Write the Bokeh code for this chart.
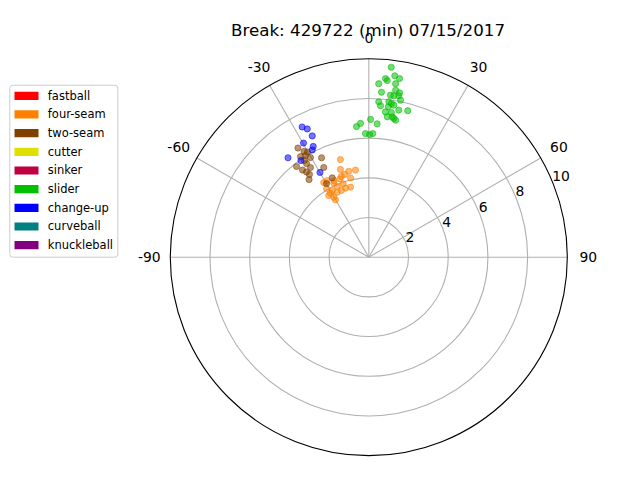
import math
from bokeh.plotting import figure
from bokeh.models import Range1d, Label
from bokeh.core.properties import value
from bokeh.embed import file_html
from bokeh.resources import INLINE

# ---------------- data ----------------
title_text = "Break: 429722 (min) 07/15/2017"

pitch_types = ["fastball", "four-seam", "two-seam", "cutter", "sinker",
               "slider", "change-up", "curveball", "knuckleball"]
pitch_colors = ["#ff0000", "#ff8000", "#804000", "#e0e000", "#c00040",
                "#00c000", "#0000ff", "#008080", "#800080"]

theta_ticks = [-90, -60, -30, 0, 30, 60, 90]
r_ticks = [2, 4, 6, 8, 10]
r_max = 10

# horizontal / vertical break (inches) per pitch type
four_seam_x = [-1.43, -1.43, -1.01, -0.67, -1.22, -1.38, -1.46, -0.92, -2.27, -1.76,
               -1.59, -1.29, -1.17, -0.92, -2.13, -1.84, -1.59, -1.38, -2.02, -1.76,
               -1.68, -1.93, -2.10, -1.76]
four_seam_y = [4.92, 4.42, 4.33, 4.39, 4.17, 4.07, 3.94, 3.99, 3.76, 3.73,
               3.56, 3.70, 3.48, 3.53, 3.45, 3.36, 3.27, 3.36, 3.11, 3.02,
               2.89, 3.22, 3.86, 3.86]

two_seam_x = [-3.57, -3.26, -3.09, -3.19, -2.94, -2.38, -3.64, -3.34, -3.14, -2.94,
              -3.14, -2.99, -2.27, -3.01, -1.84, -2.13, -3.44, -3.24]
two_seam_y = [5.50, 5.33, 5.30, 5.12, 5.02, 5.01, 4.57, 4.39, 4.72, 4.52,
              4.29, 4.17, 4.52, 3.91, 4.00, 3.71, 5.07, 4.87]

slider_x = [1.13, 1.31, 1.55, 0.84, 0.93, 0.50, 1.35, 0.64, 1.35, 1.55,
            1.09, 1.26, 1.51, 1.60, 0.50, 1.01, 1.14, 0.59, 0.98, 1.26,
            1.51, 1.96, 0.84, 1.14, 0.93, 1.18, 1.35, 1.26, 0.09, 0.42,
            -0.42, -0.62, -0.17, 0.04, 0.20]
slider_y = [9.57, 9.14, 9.00, 9.00, 8.90, 8.74, 8.74, 8.31, 8.41, 8.28,
            8.16, 8.13, 8.13, 7.91, 7.83, 7.83, 7.74, 7.63, 7.58, 7.66,
            7.41, 7.38, 7.32, 7.29, 7.07, 7.07, 6.90, 6.99, 6.94, 6.72,
            6.74, 6.58, 6.23, 6.18, 6.23]

change_up_x = [-3.36, -3.10, -2.85, -3.29, -2.80, -2.85, -4.07, -3.42, -2.46]
change_up_y = [6.56, 6.46, 6.11, 5.75, 5.58, 5.40, 5.01, 4.87, 4.27]

series = [
    ("four-seam", four_seam_x, four_seam_y),
    ("two-seam", two_seam_x, two_seam_y),
    ("slider", slider_x, slider_y),
    ("change-up", change_up_x, change_up_y),
]

# ---------------- layout ----------------
W, H = 624, 464
PX = 19.85              # pixels per break unit
CX, CY = 368.3, 256.7   # polar centre inside the canvas (px)

def dx(px):  # canvas px -> data x
    return (px - CX) / PX

def dy(py):  # canvas px (from top) -> data y
    return (CY - py) / PX

FONT = "DejaVu Sans"

p = figure(width=W, height=H, output_backend="svg", toolbar_location=None,
           x_range=Range1d(dx(0), dx(W)), y_range=Range1d(dy(H), dy(0)),
           x_axis_type=None, y_axis_type=None, min_border=0,
           background_fill_color="white", border_fill_color="white")
p.outline_line_color = None
p.grid.visible = False

# grid circles
p.circle(x=[0] * (len(r_ticks) - 1), y=[0] * (len(r_ticks) - 1), radius=r_ticks[:-1],
         fill_color=None, line_color="#b0b0b0", line_width=1.1)

# spokes
sx = [r_max * math.sin(math.radians(t)) for t in theta_ticks]
sy = [r_max * math.cos(math.radians(t)) for t in theta_ticks]
p.segment(x0=[0] * len(theta_ticks), y0=[0] * len(theta_ticks), x1=sx, y1=sy,
          line_color="#b0b0b0", line_width=1.1)

# outer spine
p.circle(x=[0], y=[0], radius=[r_max], fill_color=None, line_color="black", line_width=1.1)

# scatter points
cmap = dict(zip(pitch_types, pitch_colors))
for name, xs, ys in series:
    p.scatter(xs, ys, size=6.2, fill_color=cmap[name], line_color=cmap[name],
              fill_alpha=0.55, line_alpha=0.55)

# theta tick labels
lab_r = r_max + 21.0 / PX
p.text(x=[lab_r * math.sin(math.radians(t)) for t in theta_ticks],
       y=[lab_r * math.cos(math.radians(t)) for t in theta_ticks],
       text=[str(t) for t in theta_ticks],
       text_font=value(FONT), text_font_size="13.9px", text_color="black",
       text_align="center", text_baseline="middle")

# radial tick labels
rl_ang = math.radians(67.5)
p.text(x=[r * math.sin(rl_ang) for r in r_ticks],
       y=[r * math.cos(rl_ang) for r in r_ticks],
       text=[str(r) for r in r_ticks],
       text_font=value(FONT), text_font_size="13.9px", text_color="black",
       text_align="left", text_baseline="bottom")

# title
p.add_layout(Label(x=dx(367.5), y=dy(29.5), text=title_text, text_font=FONT,
                   text_font_size="16.7px", text_align="center",
                   text_baseline="alphabetic", text_color="black"))

# legend (drawn manually)
lx0, lx1, ly0, ly1 = 9.3, 117.3, 84.7, 256.7
p.quad(left=[dx(lx0)], right=[dx(lx1)], top=[dy(ly0)], bottom=[dy(ly1)],
       fill_color="white", fill_alpha=0.8, line_color="#cccccc", line_width=1.0,
       border_radius=3)
row0, step = 95.3, 18.67
rows = [row0 + i * step for i in range(len(pitch_types))]
p.quad(left=[dx(14.0)] * len(rows), right=[dx(38.0)] * len(rows),
       top=[dy(r - 4.1) for r in rows], bottom=[dy(r + 4.1) for r in rows],
       fill_color=pitch_colors, line_color=None)
p.text(x=[dx(47.3)] * len(rows), y=[dy(r) for r in rows], text=pitch_types,
       text_font=value(FONT), text_font_size="11.5px", text_color="black",
       text_align="left", text_baseline="middle")

open("out.html", "w").write(file_html(p, INLINE))
